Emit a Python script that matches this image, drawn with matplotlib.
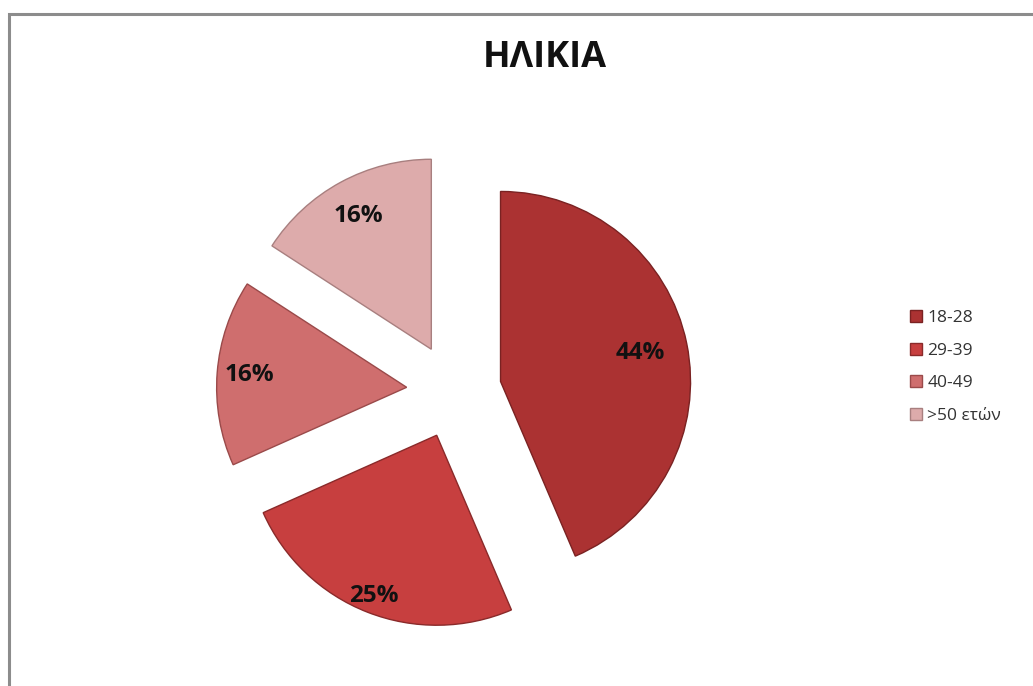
import numpy as np
import matplotlib
matplotlib.use("Agg")
import matplotlib.pyplot as plt
from matplotlib.patches import Rectangle

# data
labels = ["18-28", "29-39", "40-49", ">50 ετών"]
values = [44, 25, 16, 16]
pct_text = ["44%", "25%", "16%", "16%"]

colors = ["#ab3232", "#c73f3f", "#cf6e6e", "#ddabab"]
edges = ["#7a2222", "#8a2a2a", "#9a4a4a", "#a87f7f"]
label_r = [0.75, 0.91, 0.83, 0.80]

plt.rcParams['font.family'] = ['Open Sans', 'DejaVu Sans']

W, H = 1033, 686
fig = plt.figure(figsize=(W / 100, H / 100), dpi=100)

# outer frame (top and left edges visible)
fig.patches.append(Rectangle((9 / W, -0.1), 1.2, 1 - 14 / H + 0.1,
                             transform=fig.transFigure, fill=False,
                             edgecolor="#8c8c8c", linewidth=2.2))

# pie centre at (454, 391) px, radius 190 px
cx, cy, rpx = 454, 391, 190
half = 1.3 * rpx
ax = fig.add_axes([(cx - half) / W, (H - cy - half) / H, 2 * half / W, 2 * half / H])

wedges, _ = ax.pie(values, startangle=90, counterclock=False,
                   explode=[0.25] * 4, colors=colors,
                   wedgeprops=dict(linewidth=1.0))
for w, ec in zip(wedges, edges):
    w.set_edgecolor(ec)

for w, t, r in zip(wedges, pct_text, label_r):
    ang = np.deg2rad((w.theta1 + w.theta2) / 2)
    x0, y0 = w.center
    ax.text(x0 + r * np.cos(ang), y0 + r * np.sin(ang), t,
            ha="center", va="center", fontsize=17.5, fontweight="bold",
            color="#111111")

ax.set_xlim(-1.3, 1.3)
ax.set_ylim(-1.3, 1.3)
ax.set_aspect("equal")
ax.axis("off")

fig.text(545 / W, 1 - 58 / H, "ΗΛΙΚΙΑ", ha="center", va="center",
         fontsize=26, fontweight="bold", color="#111111")

leg = fig.legend(wedges, labels, loc="center left",
                 bbox_to_anchor=(910 / W, 1 - 367 / H),
                 frameon=False, fontsize=12.5, handlelength=0.7,
                 handleheight=0.7, handletextpad=0.3, labelspacing=0.95,
                 borderaxespad=0, borderpad=0)
for t in leg.get_texts():
    t.set_color("#333333")

fig.savefig("out.png", dpi=100)
